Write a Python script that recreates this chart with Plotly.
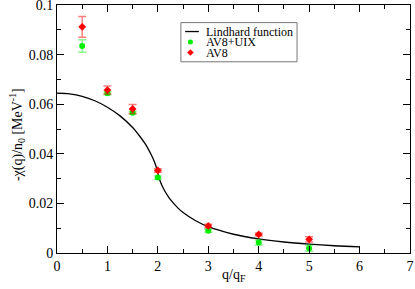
import plotly.graph_objects as go

# Lindhard curve
lind_q = [0, 0.25, 0.5, 0.75, 1.0, 1.25, 1.5, 1.6, 1.75, 1.8, 1.9, 1.95, 1.99, 2.0, 2.01, 2.05,
          2.1, 2.2, 2.25, 2.4, 2.5, 2.75, 3.0, 3.5, 4.0, 4.5, 5.0, 5.5, 6.0]
lind_v = [0.0645, 0.0642, 0.0632, 0.0614, 0.0588, 0.0553, 0.0506, 0.0482, 0.0440, 0.0423, 0.0383,
          0.0358, 0.0332, 0.03225, 0.0313, 0.0287, 0.0264, 0.0229, 0.0215, 0.0181, 0.0163, 0.0130,
          0.0106, 0.00756, 0.00568, 0.00443, 0.00356, 0.00292, 0.00244]

q_pts = [0.5, 1.0, 1.5, 2.0, 3.0, 4.0, 5.0]
uix_v = [0.0835, 0.0644, 0.0566, 0.0304, 0.0090, 0.0042, 0.0019]
uix_e = [0.0025, 0.0006, 0.0005, 0.0007, 0.0006, 0.0010, 0.0012]
av8_v = [0.0912, 0.0657, 0.0581, 0.0333, 0.0109, 0.0075, 0.0055]
av8_e = [0.0042, 0.0016, 0.0018, 0.0007, 0.0007, 0.0006, 0.0011]

x_ticks = [0, 1, 2, 3, 4, 5, 6, 7]
y_ticks = [0, 0.02, 0.04, 0.06, 0.08, 0.1]
y_ticktext = ["0", "0.02", "0.04", "0.06", "0.08", "0.1"]

legend_labels = ["Lindhard function", "AV8+UIX", "AV8"]

FONT = "Liberation Serif"

fig = go.Figure()
fig.add_trace(go.Scatter(x=lind_q, y=lind_v, mode="lines", line=dict(color="black", width=1.3),
                         showlegend=False, line_shape="spline"))
fig.add_trace(go.Scatter(x=q_pts, y=uix_v, mode="markers",
                         marker=dict(symbol="circle", size=6, color="#00ee00"),
                         error_y=dict(type="data", array=uix_e, color="rgba(0,230,0,0.45)",
                                      thickness=1.5, width=4),
                         showlegend=False))
fig.add_trace(go.Scatter(x=q_pts, y=av8_v, mode="markers",
                         marker=dict(symbol="diamond", size=6, color="#ff0000"),
                         error_y=dict(type="data", array=av8_e, color="rgba(255,0,0,0.5)",
                                      thickness=1.5, width=4),
                         showlegend=False))

# manual legend (overlay axes in 0..1 coordinates)
row_y = [0.893, 0.851, 0.808]
fig.add_trace(go.Scatter(x=[0.363, 0.402], y=[row_y[0], row_y[0]], mode="lines",
                         line=dict(color="black", width=1.3), xaxis="x2", yaxis="y2",
                         showlegend=False, hoverinfo="skip"))
fig.add_trace(go.Scatter(x=[0.378], y=[row_y[1]], mode="markers",
                         marker=dict(symbol="circle", size=5, color="#00ee00"),
                         xaxis="x2", yaxis="y2", showlegend=False, hoverinfo="skip"))
fig.add_trace(go.Scatter(x=[0.378], y=[row_y[2]], mode="markers",
                         marker=dict(symbol="diamond", size=5, color="#ff0000"),
                         xaxis="x2", yaxis="y2", showlegend=False, hoverinfo="skip"))
for lab, yy in zip(legend_labels, row_y):
    fig.add_annotation(x=0.416, y=yy, xref="paper", yref="paper", text=lab, showarrow=False,
                       xanchor="left", yanchor="middle", font=dict(family=FONT, size=12, color="black"))
fig.add_shape(type="rect", xref="paper", yref="paper", x0=0.351, x1=0.680, y0=0.771, y1=0.929,
              line=dict(color="#777777", width=1), fillcolor="rgba(0,0,0,0)")

# axis titles
fig.add_annotation(x=0.5, y=-0.089, xref="paper", yref="paper", text="q/q<sub>F</sub>",
                   showarrow=False, xanchor="center", yanchor="middle",
                   font=dict(family=FONT, size=14, color="black"))
fig.add_annotation(x=-0.113, y=0.476, xref="paper", yref="paper",
                   text="-χ(q)/n<sub>0</sub> [MeV<sup>-1</sup>]", textangle=-90,
                   showarrow=False, xanchor="center", yanchor="middle",
                   font=dict(family=FONT, size=14, color="black"))

axis_common = dict(showline=True, linecolor="black", linewidth=1, mirror="ticks",
                   ticks="inside", ticklen=7, tickwidth=1, tickcolor="black",
                   showgrid=False, zeroline=False, automargin=False, ticklabeloverflow="allow",
                   tickfont=dict(family=FONT, size=14, color="black"))

fig.update_layout(
    width=415, height=289,
    margin=dict(l=57, r=5, t=5, b=36),
    paper_bgcolor="white", plot_bgcolor="white",
    font=dict(family=FONT, size=14, color="black"),
    xaxis=dict(range=[0, 7], tickvals=x_ticks,
               minor=dict(ticks="inside", ticklen=4, tickcolor="black", dtick=0.5, tick0=0),
               **axis_common),
    yaxis=dict(range=[0, 0.10001], tickvals=y_ticks, ticktext=y_ticktext,
               minor=dict(ticks="inside", ticklen=4, tickcolor="black", dtick=0.01, tick0=0),
               **axis_common),
    xaxis2=dict(range=[0, 1], overlaying="x", visible=False, fixedrange=True),
    yaxis2=dict(range=[0, 1], overlaying="y", visible=False, fixedrange=True),
)

fig.write_html("out.html", config={"displayModeBar": False},
               post_script="document.body.style.margin='0';document.body.style.padding='0';")
